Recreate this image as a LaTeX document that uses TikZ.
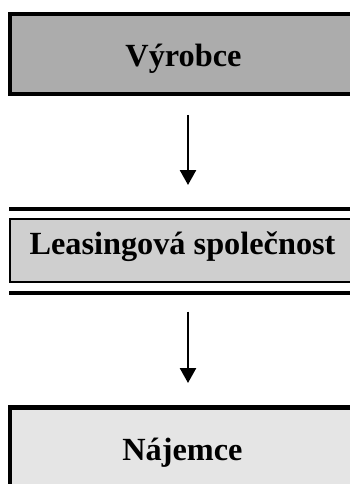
\documentclass[tikz,border=0pt]{standalone}
\usepackage{fontspec}
\setmainfont{Liberation Serif}
\usetikzlibrary{arrows.meta}
\definecolor{topfill}{HTML}{ACACAC}
\definecolor{midfill}{HTML}{CFCFCF}
\definecolor{botfill}{HTML}{E5E5E5}
\tikzset{
  box/.style={draw=black, rectangle, inner sep=0pt},
  lbl/.style={anchor=base, inner sep=0pt, font=\bfseries\fontsize{32.3}{36}\selectfont},
  bar/.style={line width=4pt},
  flow/.style={line width=2.5pt, -{Triangle[width=16pt,length=15pt]}}
}
\begin{document}
\begin{tikzpicture}[x=1pt,y=-1pt]
\useasboundingbox (0,0) rectangle (350,484);
\clip (0,0) rectangle (350,484);
% top box
\node[box, fill=topfill, line width=4pt, minimum width=345.4pt, minimum height=79.8pt] (top) at (183,54.1) {};
\node[lbl] (toptext) at (183.5,66.7) {Výrobce};
% middle
\coordinate (bar1l) at (9,208.7);
\coordinate (bar1r) at (360,208.7);
\coordinate (bar2l) at (9,293);
\coordinate (bar2r) at (360,293);
\draw[bar] (bar1l) -- (bar1r);
\draw[bar] (bar2l) -- (bar2r);
\node[box, fill=midfill, line width=2pt, minimum width=346pt, minimum height=63.3pt] (mid) at (183,250.35) {};
\node[lbl] (midtext) at (182.5,254.3) {Leasingová společnost};
% bottom box
\node[box, fill=botfill, line width=4.5pt, minimum width=346pt, minimum height=120pt] (bot) at (183,467.5) {};
\node[lbl] (bottext) at (182.5,460) {Nájemce};
% arrows
\coordinate (a1s) at (188,115);
\coordinate (a1e) at (188,185);
\coordinate (a2s) at (188,311.7);
\coordinate (a2e) at (188,383);
\draw[flow] (a1s) -- (a1e);
\draw[flow] (a2s) -- (a2e);
\end{tikzpicture}
\end{document}
